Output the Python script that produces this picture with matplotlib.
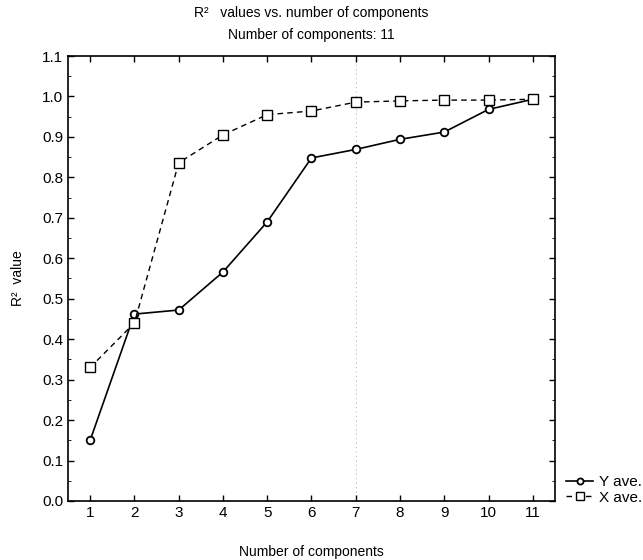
import matplotlib.pyplot as plt
import numpy as np

plt.rcParams['font.family'] = ['Liberation Sans', 'DejaVu Sans']

# datos
componentes = list(range(1, 12))
y_ave = [0.15, 0.462, 0.472, 0.566, 0.69, 0.848, 0.869, 0.894, 0.912, 0.968, 0.993]
x_ave = [0.33, 0.44, 0.836, 0.905, 0.955, 0.964, 0.986, 0.989, 0.991, 0.991, 0.993]
xticks = componentes
yticks = np.round(np.arange(0, 1.11, 0.1), 1)

fig = plt.figure(figsize=(6.43, 5.6), dpi=100)
ax = fig.add_axes([0.1058, 0.1054, 0.7572, 0.7946])

# linea punteada tenue en x=7
ax.axvline(7, color='#bbbbbb', lw=0.8, ls=(0, (1, 3)), zorder=1)

ax.plot(componentes, y_ave, '-o', color='black', lw=1.2, ms=5.5,
        mfc='white', mec='black', mew=1.3, label='Y ave.', zorder=3)
ax.plot(componentes, x_ave, '--s', color='black', lw=1.0, ms=6.5,
        mfc='white', mec='black', mew=1.0, dashes=(4, 3), label='X ave.', zorder=3)

ax.set_xlim(0.5, 11.5)
ax.set_ylim(0, 1.1)
ax.set_xticks(xticks)
ax.set_yticks(yticks)
ax.set_yticklabels([f'{v:.1f}' for v in yticks])
ax.set_yticks(np.arange(0, 1.1, 0.05), minor=True)
ax.tick_params(direction='in', top=True, right=True, labelsize=11, length=4, width=1)
ax.tick_params(which='minor', direction='in', left=True, right=True, length=2)
for s in ax.spines.values():
    s.set_linewidth(1.2)

ax.set_xlabel('Number of components', fontsize=10, labelpad=18)
ax.set_ylabel('R²  value', fontsize=10, labelpad=12)
ax.set_title('R²   values vs. number of components\nNumber of components: 11',
             fontsize=10, pad=12, linespacing=1.75)

fig.legend(loc='lower left', bbox_to_anchor=(0.868, 0.085), frameon=False,
           fontsize=11, handlelength=1.8, handletextpad=0.4, labelspacing=0.1,
           borderpad=0, markerscale=0.8)

fig.savefig('out.png', dpi=100)
